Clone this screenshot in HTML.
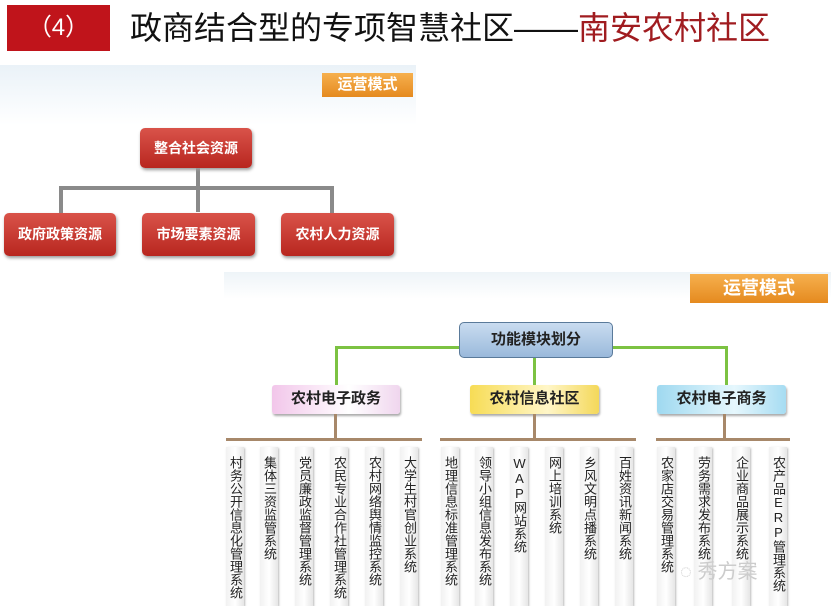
<!DOCTYPE html>
<html><head><meta charset="utf-8"><style>
body{margin:0;width:831px;height:606px;background:#fff;position:relative;overflow:hidden;font-family:"Liberation Sans","Noto Sans CJK SC",sans-serif}
div{position:absolute;box-sizing:border-box}
.r{background:linear-gradient(#d9534a,#b8261f);border-radius:5px;color:#fff;font-weight:bold;font-size:14px;text-align:center;box-shadow:1px 2px 3px #999}
.g{background:#8a8a8a}
.tag{background:linear-gradient(#f6b04e,#e58a1f);color:#fff;font-weight:bold;text-align:center}
.gr{background:#7cc242}
.br{background:#a7886a}
.l2{border-radius:3px;font-size:15px;font-weight:bold;text-align:center;color:#222;box-shadow:1px 2px 2px #aaa;line-height:28px}
.leaf{top:447px;height:159px;width:18px;background:linear-gradient(90deg,#f1f1f1,#fff,#e6e6e6);box-shadow:1px 1px 2px #bbb;font-size:13px;line-height:18px;padding-top:9px;color:#222;writing-mode:vertical-rl;text-orientation:upright;letter-spacing:0}
</style></head><body>
<div style="left:7px;top:5px;width:103px;height:46px;background:#c0141b;color:#fff;font-size:24px;line-height:46px;text-align:center">（4）</div>
<div style="left:130px;top:6px;font-size:32px;line-height:44px;white-space:nowrap;color:#111">政商结合型的专项智慧社区——<span style="color:#a01c20">南安农村社区</span></div>
<div style="left:0;top:65px;width:416px;height:200px;background:linear-gradient(#eaf2f8,#fff 30%)"></div>
<div class="tag" style="left:322px;top:73px;width:91px;height:24px;font-size:15px;line-height:24px">运营模式</div>
<div class="g" style="left:196px;top:168px;width:4px;height:44px"></div>
<div class="g" style="left:59px;top:186px;width:275px;height:4px"></div>
<div class="g" style="left:59px;top:186px;width:4px;height:27px"></div>
<div class="g" style="left:330px;top:186px;width:4px;height:27px"></div>
<div class="r" style="left:140px;top:128px;width:112px;height:40px;line-height:40px">整合社会资源</div>
<div class="r" style="left:4px;top:213px;width:112px;height:43px;line-height:43px">政府政策资源</div>
<div class="r" style="left:142px;top:213px;width:113px;height:43px;line-height:43px">市场要素资源</div>
<div class="r" style="left:281px;top:213px;width:113px;height:43px;line-height:43px">农村人力资源</div>
<div style="left:224px;top:272px;width:607px;height:334px;background:linear-gradient(#eef4f8,#fff 8%)"></div>
<div class="tag" style="left:690px;top:274px;width:138px;height:29px;font-size:18px;line-height:29px">运营模式</div>
<div class="gr" style="left:335px;top:346px;width:393px;height:3px"></div>
<div class="gr" style="left:335px;top:346px;width:3px;height:39px"></div>
<div class="gr" style="left:725px;top:346px;width:3px;height:39px"></div>
<div class="gr" style="left:533px;top:356px;width:3px;height:29px"></div>
<div style="left:459px;top:322px;width:154px;height:36px;border:1px solid #5a7a9a;border-radius:5px;background:linear-gradient(#c9dcf0,#9ab9db);font-weight:bold;font-size:15px;text-align:center;line-height:34px;color:#222">功能模块划分</div>
<div class="l2" style="left:272px;top:385px;width:128px;height:29px;background:linear-gradient(90deg,#f2c6ea,#fff 60%,#f0d6ee)">农村电子政务</div>
<div class="l2" style="left:470px;top:385px;width:129px;height:29px;background:linear-gradient(90deg,#f7dc55,#fff6c8 60%,#f4d85a)">农村信息社区</div>
<div class="l2" style="left:657px;top:385px;width:129px;height:29px;background:linear-gradient(90deg,#9fd9f0,#e6f7fd 60%,#a6dcf2)">农村电子商务</div>
<div class="br" style="left:334px;top:414px;width:3px;height:26px"></div>
<div class="br" style="left:533px;top:414px;width:3px;height:26px"></div>
<div class="br" style="left:723px;top:414px;width:3px;height:26px"></div>
<div class="br" style="left:226px;top:438px;width:196px;height:3px"></div>
<div class="br" style="left:440px;top:438px;width:196px;height:3px"></div>
<div class="br" style="left:656px;top:438px;width:134px;height:3px"></div>
<div class="leaf" style="left:226px">村务公开信息化管理系统</div>
<div class="leaf" style="left:260px">集体三资监管系统</div>
<div class="leaf" style="left:295px">党员廉政监督管理系统</div>
<div class="leaf" style="left:330px">农民专业合作社管理系统</div>
<div class="leaf" style="left:365px">农村网络舆情监控系统</div>
<div class="leaf" style="left:400px">大学生村官创业系统</div>
<div class="leaf" style="left:441px">地理信息标准管理系统</div>
<div class="leaf" style="left:475px">领导小组信息发布系统</div>
<div class="leaf" style="left:510px">WAP网站系统</div>
<div class="leaf" style="left:545px">网上培训系统</div>
<div class="leaf" style="left:580px">乡风文明点播系统</div>
<div class="leaf" style="left:615px">百姓资讯新闻系统</div>
<div class="leaf" style="left:657px">农家店交易管理系统</div>
<div class="leaf" style="left:694px">劳务需求发布系统</div>
<div class="leaf" style="left:732px">企业商品展示系统</div>
<div class="leaf" style="left:769px">农产品ERP管理系统</div>
<div style="left:680px;top:555px;font-size:20px;color:#ccc;white-space:nowrap">◌ 秀方案</div>
</body></html>
